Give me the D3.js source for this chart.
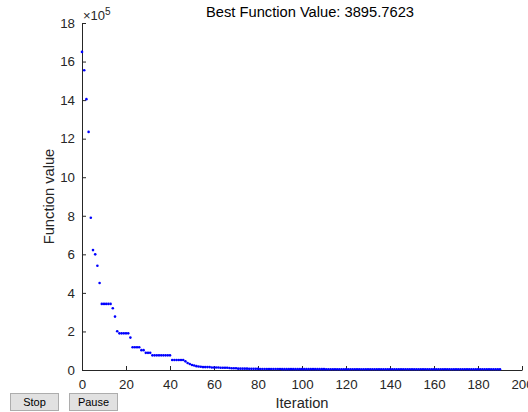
<!DOCTYPE html>
<html><head><meta charset="utf-8">
<script src="https://cdn.jsdelivr.net/npm/d3@7"></script>
<style>
html,body{margin:0;padding:0;background:#fff;}
svg{display:block;font-family:"Liberation Sans",Arial,sans-serif;}
</style></head>
<body>
<svg id="c" width="528" height="412"></svg>
<script>
const titleText = "Best Function Value: 3895.7623";
const xLabel = "Iteration";
const yLabel = "Function value";
const xTicks = [0,20,40,60,80,100,120,140,160,180,200];
const yTicks = [0,2,4,6,8,10,12,14,16,18];
const exponentLabel = "5";
// function value (x 1e5) at each iteration 0..190
const values = [
16.5,15.55,14.05,12.35,7.9,6.22,6.0,5.41,4.51,3.43,
3.43,3.43,3.43,3.43,3.2,2.77,2.01,1.9,1.9,1.9,
1.9,1.9,1.68,1.18,1.18,1.18,1.18,1.03,1.03,0.89,
0.89,0.89,0.76,0.76,0.76,0.76,0.76,0.76,0.76,0.76,
0.76,0.52,0.52,0.52,0.52,0.52,0.52,0.45,0.36,0.31,
0.26,0.23,0.2,0.18,0.17,0.15,0.15,0.15,0.15,0.13,
0.13,0.13,0.13,0.12,0.12,0.12,0.12,0.1,0.09,0.09,
0.09,0.07,0.07,0.07,0.07,0.07,0.06,0.06,0.06,0.06,
0.06,0.05,0.05,0.05,0.05,0.05,0.05,0.05,0.05,0.05,
0.05,0.045,0.045,0.045,0.045,0.045,0.045,0.045,0.045,0.045,
0.045,0.045,0.045,0.045,0.045,0.045,0.045,0.045,0.045,0.045,
0.045,0.04,0.04,0.04,0.04,0.04,0.04,0.04,0.04,0.04,
0.04,0.04,0.04,0.04,0.04,0.04,0.04,0.04,0.04,0.04,
0.04,0.04,0.04,0.04,0.04,0.04,0.04,0.04,0.04,0.04,
0.04,0.04,0.04,0.04,0.04,0.04,0.04,0.04,0.04,0.04,
0.04,0.04,0.04,0.04,0.04,0.04,0.04,0.04,0.04,0.04,
0.04,0.04,0.04,0.04,0.04,0.04,0.04,0.04,0.04,0.04,
0.04,0.04,0.04,0.04,0.04,0.04,0.04,0.04,0.04,0.04,
0.04,0.04,0.04,0.04,0.04,0.04,0.04,0.04,0.04,0.04,
0.039
];
const buttons = ["Stop","Pause"];

const svg = d3.select("#c");
const L = 82, R = 522, T = 23, B = 370;
const x = d3.scaleLinear().domain([0,200]).range([L,R]);
const y = d3.scaleLinear().domain([0,18]).range([B,T]);
const axisColor = "#262626";

// x axis
const gx = svg.append("g").attr("transform",`translate(0,${B})`)
  .call(d3.axisBottom(x).tickValues(xTicks).tickSizeInner(-4).tickSizeOuter(0).tickPadding(10).tickFormat(d3.format("d")));
// y axis
const gy = svg.append("g").attr("transform",`translate(${L},0)`)
  .call(d3.axisLeft(y).tickValues(yTicks).tickSizeInner(-4).tickSizeOuter(0).tickPadding(7).tickFormat(d3.format("d")));
[gx,gy].forEach(g=>{
  g.select(".domain").attr("stroke",axisColor).attr("stroke-width",1);
  g.selectAll(".tick line").attr("stroke",axisColor);
  g.selectAll(".tick text").attr("fill",axisColor).style("font-size","13.3px").style("font-family","Liberation Sans, Arial, sans-serif");
});

// points
svg.append("g").selectAll("circle").data(values).join("circle")
  .attr("cx",(d,i)=>x(i)).attr("cy",d=>y(d)).attr("r",1.3).attr("fill","#0000ff");

// exponent label
const ex = svg.append("text").attr("x",L+1).attr("y",20).attr("fill",axisColor)
  .style("font-size","13px");
ex.append("tspan").text("\u00d710");
ex.append("tspan").attr("dy",-5).style("font-size","10px").text(exponentLabel);

// title
svg.append("text").attr("x",310).attr("y",17).attr("text-anchor","middle")
  .attr("fill","#000").style("font-size","14.7px").text(titleText);
// x label
svg.append("text").attr("x",302).attr("y",408).attr("text-anchor","middle")
  .attr("fill",axisColor).style("font-size","14.7px").text(xLabel);
// y label
svg.append("text").attr("transform",`translate(54,${(T+B)/2}) rotate(-90)`).attr("text-anchor","middle")
  .attr("fill",axisColor).style("font-size","14.7px").text(yLabel);

// buttons
const bx = [10,69];
buttons.forEach((b,i)=>{
  svg.append("rect").attr("x",bx[i]+0.5).attr("y",393.5).attr("width",48).attr("height",17)
    .attr("fill","#e1e1e1").attr("stroke","#adadad");
  svg.append("text").attr("x",bx[i]+24.5).attr("y",406).attr("text-anchor","middle")
    .attr("fill","#000").style("font-size","11px").text(b);
});
</script>
</body></html>
